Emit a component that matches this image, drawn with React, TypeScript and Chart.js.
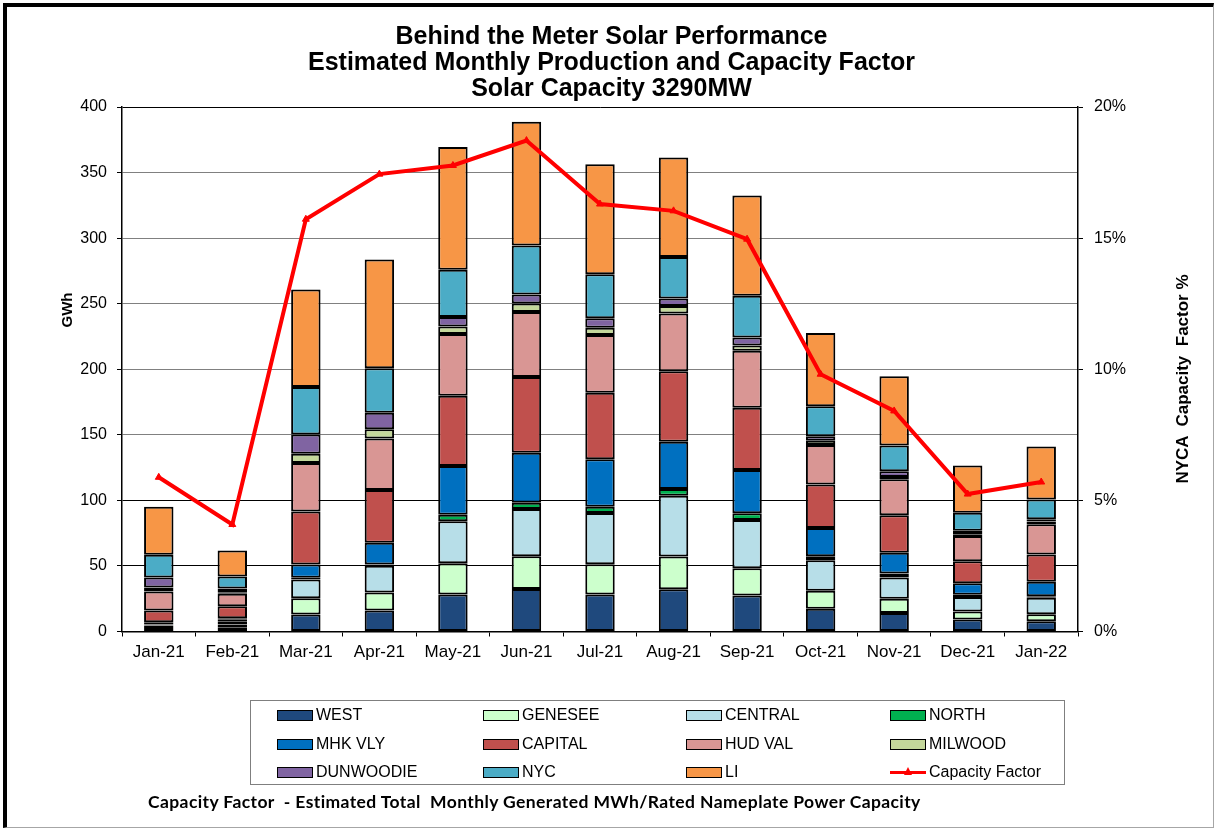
import React, { useEffect, useRef } from 'react';
import { Chart, registerables } from 'chart.js';

Chart.register(...registerables);

const categories = ['Jan-21', 'Feb-21', 'Mar-21', 'Apr-21', 'May-21', 'Jun-21', 'Jul-21', 'Aug-21', 'Sep-21', 'Oct-21', 'Nov-21', 'Dec-21', 'Jan-22'];

const west = [2, 3.3, 13, 16, 28.3, 32.5, 28.3, 32.3, 27.4, 17.3, 14.2, 9.1, 7.9];
const genesee = [1.5, 2, 12.4, 13.8, 23.7, 24.9, 23, 24.9, 20.9, 13.7, 10.7, 6.1, 5.3];
const central = [1, 2.6, 14.3, 20.4, 32, 36.1, 39.1, 46.4, 36.8, 23.4, 16.3, 11.2, 12.5];
const north = [0.8, 1, 1.3, 0.9, 5.1, 4.6, 4.7, 5.1, 5.1, 3, 3, 1.6, 1.2];
const mhkVly = [1.8, 1.3, 10.1, 16.6, 37.1, 38.2, 36.3, 36.1, 33, 21.6, 15.8, 8.8, 11];
const capital = [9, 9.1, 40.5, 40.2, 53.6, 57.7, 50.7, 53.6, 47.5, 33.1, 28.7, 16.8, 20.8];
const hudVal = [14.5, 9.4, 36.9, 39.2, 47.1, 49.7, 44.1, 44.2, 43.4, 30.2, 27.4, 19.3, 23.1];
const milwood = [3, 1.3, 7.1, 7.1, 5.7, 6.4, 5.4, 5.6, 4.1, 3.1, 1.8, 1.3, 2.1];
const dunwoodie = [7.5, 2.8, 14.6, 12.7, 7.2, 7, 7.2, 5.8, 6.1, 3.5, 4.3, 2.6, 1.7];
const nyc = [17.5, 9.2, 36.3, 33.9, 36.1, 37.3, 33.7, 31.7, 31.7, 22.9, 19.6, 13.7, 15];
const li = [36.5, 19.8, 74.3, 82.9, 93.5, 94.3, 83.8, 75.7, 76.5, 55.9, 52.9, 36.1, 40.4];
const capacityFactor = [5.88, 4.08, 15.72, 17.44, 17.77, 18.72, 16.3, 16.04, 14.96, 9.81, 8.41, 5.24, 5.7];

const seriesNames = ['WEST', 'GENESEE', 'CENTRAL', 'NORTH', 'MHK VLY', 'CAPITAL', 'HUD VAL', 'MILWOOD', 'DUNWOODIE', 'NYC', 'LI'];
const seriesData = [west, genesee, central, north, mhkVly, capital, hudVal, milwood, dunwoodie, nyc, li];
const seriesColors = ['#1F497D', '#CCFFCC', '#B7DEE8', '#00B050', '#0070C0', '#C0504D', '#D99694', '#C4D79B', '#8064A2', '#4BACC6', '#F79646'];

const titleLines = ['Behind the Meter Solar Performance', 'Estimated Monthly Production and Capacity Factor', 'Solar Capacity 3290MW'];
const leftTicks = [0, 50, 100, 150, 200, 250, 300, 350, 400];
const rightTicks = [0, 5, 10, 15, 20];

const FONT = '"Liberation Sans", Arial, Helvetica, sans-serif';

const legendOrder = ['WEST', 'GENESEE', 'CENTRAL', 'NORTH', 'MHK VLY', 'CAPITAL', 'HUD VAL', 'MILWOOD', 'DUNWOODIE', 'NYC', 'LI', 'Capacity Factor'];

export default function App() {
  const ref = useRef<HTMLCanvasElement | null>(null);

  useEffect(() => {
    document.body.style.margin = '0';
    const canvas = ref.current;
    if (!canvas) return;
    const barSets = seriesNames.map((name, i) => ({
      type: 'bar' as const,
      label: name,
      data: seriesData[i],
      backgroundColor: seriesColors[i],
      borderColor: '#000000',
      borderWidth: 2,
      borderSkipped: false as const,
      yAxisID: 'y',
      stack: 'prod',
      order: 1,
      barPercentage: 0.4,
      categoryPercentage: 1,
    }));
    const chart = new Chart(canvas, {
      type: 'bar',
      data: {
        labels: categories,
        datasets: [
          {
            type: 'line' as const,
            label: 'Capacity Factor',
            data: capacityFactor,
            yAxisID: 'y1',
            borderColor: '#FF0000',
            backgroundColor: '#FF0000',
            borderWidth: 4,
            pointStyle: 'triangle',
            pointRadius: 4,
            pointBorderWidth: 1,
            tension: 0,
            order: 0,
          } as any,
          ...barSets,
        ],
      },
      options: {
        responsive: false,
        animation: false,
        layout: { padding: { left: 8, right: 0, top: 0, bottom: 158.5 } },
        plugins: {
          legend: { display: false },
          tooltip: { enabled: false },
          title: {
            display: true,
            text: titleLines,
            color: '#000',
            font: { family: FONT, size: 25, weight: 'bold', lineHeight: 26 / 25 },
            padding: { top: 24, bottom: 5 },
          },
        },
        scales: {
          x: {
            stacked: true,
            grid: { display: true, offset: true, drawOnChartArea: false, drawTicks: true, tickLength: 5, tickColor: '#000', tickWidth: 1 },
            border: { display: true, color: '#000', width: 1.5 },
            ticks: { color: '#000', font: { family: FONT, size: 17 }, padding: 6, maxRotation: 0, autoSkip: false },
            afterFit: (s: any) => { s.height = 40; },
          },
          y: {
            stacked: true,
            min: 0,
            max: 400,
            afterBuildTicks: (s: any) => { s.ticks = leftTicks.map((v) => ({ value: v })); },
            ticks: { color: '#000', font: { family: FONT, size: 16 }, padding: 10 },
            grid: {
              color: (c: any) => {
                const v = c.tick ? c.tick.value : -1;
                return v === 50 || v === 100 || v === 400 ? '#000000' : '#808080';
              },
              tickColor: '#000',
              tickLength: 5,
              lineWidth: 1,
            },
            border: { display: true, color: '#000', width: 1.5 },
            afterFit: (s: any) => { s.width = 114; },
          },
          y1: {
            position: 'right',
            stacked: false,
            min: 0,
            max: 20,
            afterBuildTicks: (s: any) => { s.ticks = rightTicks.map((v) => ({ value: v })); },
            ticks: { color: '#000', font: { family: FONT, size: 16 }, padding: 11, callback: (v: any) => v + '%' },
            grid: { drawOnChartArea: false, drawTicks: true, tickLength: 5, tickColor: '#000' },
            border: { display: true, color: '#000', width: 1.5 },
            afterFit: (s: any) => { s.width = 137; },
          },
        },
      } as any,
    });
    return () => chart.destroy();
  }, []);

  const colX = [277, 483, 686, 890];
  const rowY = [715, 744, 772];

  return (
    <div style={{ position: 'relative', width: 1215, height: 830, background: '#fff', overflow: 'hidden' }}>
      <canvas ref={ref} width={1215} height={830} style={{ position: 'absolute', left: 0, top: 0, width: 1215, height: 830 }} />
      <div style={{ position: 'absolute', left: 3, top: 3, width: 1211, height: 825, boxSizing: 'border-box', borderLeft: '4px solid #000', borderTop: '4px solid #000', borderRight: '1px solid #a6a6a6', borderBottom: '1px solid #a6a6a6', pointerEvents: 'none' }} />
      <div style={{ position: 'absolute', left: 66, top: 310, transform: 'translate(-50%,-50%) rotate(-90deg)', font: `bold 15px ${FONT}`, whiteSpace: 'pre', color: '#000' }}>GWh</div>
      <div style={{ position: 'absolute', left: 1183, top: 379, transform: 'translate(-50%,-50%) rotate(-90deg)', font: `bold 17px ${FONT}`, whiteSpace: 'pre', color: '#000' }}>{'NYCA  Capacity  Factor %'}</div>
      <div style={{ position: 'absolute', left: 250, top: 700, width: 815, height: 85, boxSizing: 'border-box', border: '1px solid #7f7f7f' }} />
      {legendOrder.map((name, i) => {
        const col = i % 4;
        const row = Math.floor(i / 4);
        const x = colX[col];
        const y = rowY[row];
        const isLine = name === 'Capacity Factor';
        const idx = seriesNames.indexOf(name);
        return (
          <React.Fragment key={name}>
            {isLine ? (
              <div style={{ position: 'absolute', left: x, top: y - 6, width: 36, height: 12 }}>
                <div style={{ position: 'absolute', left: 0, top: 4.5, width: 36, height: 3, background: '#FF0000' }} />
                <div style={{ position: 'absolute', left: 14, top: 1, width: 0, height: 0, borderLeft: '4px solid transparent', borderRight: '4px solid transparent', borderBottom: '8px solid #FF0000' }} />
              </div>
            ) : (
              <div style={{ position: 'absolute', left: x, top: y - 5.5, width: 36, height: 11, boxSizing: 'border-box', background: seriesColors[idx], border: '1px solid #000' }} />
            )}
            <div style={{ position: 'absolute', left: x + 39, top: y, transform: 'translateY(-50%)', font: `16px ${FONT}`, color: '#000', whiteSpace: 'pre', lineHeight: '18px' }}>{name}</div>
          </React.Fragment>
        );
      })}
      <div style={{ position: 'absolute', left: 148, top: 802, transform: 'translateY(-50%)', font: `bold 17.5px Lato, "Open Sans", sans-serif`, letterSpacing: '0.4px', color: '#000', whiteSpace: 'pre', lineHeight: '20px' }}>
        {'Capacity Factor  - Estimated Total  Monthly Generated MWh/Rated Nameplate Power Capacity'}
      </div>
    </div>
  );
}
